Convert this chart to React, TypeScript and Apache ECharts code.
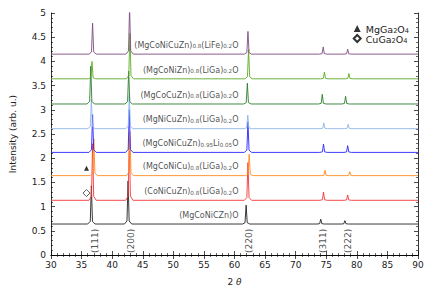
import React, { useEffect, useRef } from "react";
import * as echarts from "echarts";

const FONT = "DejaVu Sans";

// Sample labels (rich text with subscripts), bottom to top
const sampleLabels = [
  "{m|(MgCoNiCZn)O}",
  "{m|(CoNiCuZn)}{s|0.8}{m|(LiGa)}{s|0.2}{m|O}",
  "{m|(MgCoNiCu)}{s|0.8}{m|(LiGa)}{s|0.2}{m|O}",
  "{m|(MgCoNiCuZn)}{s|0.95}{m|Li}{s|0.05}{m|O}",
  "{m|(MgNiCuZn)}{s|0.8}{m|(LiGa)}{s|0.2}{m|O}",
  "{m|(MgCoCuZn)}{s|0.8}{m|(LiGa)}{s|0.2}{m|O}",
  "{m|(MgCoNiZn)}{s|0.8}{m|(LiGa)}{s|0.2}{m|O}",
  "{m|(MgCoNiCuZn)}{s|0.8}{m|(LiFe)}{s|0.2}{m|O}",
];
const traceColors = ["#222222", "#f53535", "#ff8a1c", "#2626ff", "#8db6e8", "#2d7d2d", "#5cab24", "#7e4c82"];
const baselines = [0.64, 1.13, 1.64, 2.12, 2.61, 3.12, 3.64, 4.15];
const peakPositions = [
  [36.6, 42.6, 61.9, 74.1, 78.05],
  [36.8, 42.8, 62.2, 74.55, 78.5],
  [37.0, 42.9, 62.4, 74.8, 78.85],
  [36.8, 42.8, 62.2, 74.55, 78.5],
  [36.6, 42.8, 62.17, 74.6, 78.58],
  [36.5, 42.7, 62.1, 74.35, 78.16],
  [36.7, 42.9, 62.3, 74.7, 78.7],
  [36.8, 42.85, 62.2, 74.5, 78.5],
];
const peakTops = [
  [1.43, 1.53, 1.03, 0.74, 0.71],
  [2.3, 2.4, 1.91, 1.3, 1.24],
  [2.4, 2.55, 2.08, 1.75, 1.72],
  [2.9, 3.0, 2.75, 2.29, 2.26],
  [3.2, 3.3, 2.89, 2.73, 2.7],
  [3.9, 3.8, 3.55, 3.32, 3.28],
  [4.0, 4.58, 4.25, 3.78, 3.75],
  [4.79, 5.1, 4.62, 4.3, 4.25],
];

const hklLabels = ["(111)", "(200)", "(220)", "(311)", "(222)"];
const hklPositions = [37.15, 43.0, 62.3, 74.5, 78.5];
const hklY = 0.29;

const phaseNames = ["MgGa2O4", "CuGa2O4"];
const phaseMarks: number[][] = [
  [35.8, 1.79],
  [35.8, 1.28],
];

const labelX = 60.65;
const labelOffset = 0.2;

function buildTrace(i: number): number[][] {
  const b = baselines[i];
  const pts: number[][] = [[30, b]];
  peakPositions[i].forEach((p, k) => {
    const t = peakTops[i][k];
    const sh = b + 0.07 * (t - b);
    pts.push([p - 0.6, b], [p - 0.18, sh], [p, t], [p + 0.18, sh], [p + 0.6, b]);
  });
  pts.push([90, b]);
  return pts;
}

export default function App() {
  const ref = useRef<HTMLDivElement>(null);
  useEffect(() => {
    if (!ref.current) return;
    const chart = echarts.init(ref.current, undefined, { renderer: "svg" });
    const rich = {
      m: { fontSize: 8, fontFamily: FONT, color: "#222", lineHeight: 10, verticalAlign: "bottom" },
      s: { fontSize: 5.6, fontFamily: FONT, color: "#222", lineHeight: 5, verticalAlign: "bottom" },
    };
    const legendRich = {
      m: { fontSize: 9.5, fontFamily: FONT, color: "#222", lineHeight: 11, verticalAlign: "bottom" },
      s: { fontSize: 6.6, fontFamily: FONT, color: "#222", lineHeight: 6, verticalAlign: "bottom" },
    };
    const axisCommon = {
      min: 0,
      axisLine: { lineStyle: { color: "#000", width: 0.8 } },
      splitLine: { show: false },
    };
    const series: any[] = [];
    baselines.forEach((_, i) => {
      series.push({
        type: "line",
        data: buildTrace(i),
        showSymbol: false,
        lineStyle: { color: traceColors[i], width: 0.9 },
        z: 2 + i,
        silent: true,
      });
    });
    baselines.forEach((b, i) => {
      series.push({
        type: "scatter",
        data: [[labelX, b + labelOffset]],
        symbolSize: 0,
        silent: true,
        z: 20,
        label: {
          show: true,
          position: "left",
          distance: 0,
          formatter: sampleLabels[i],
          rich,
        },
      });
    });
    series.push({
      type: "scatter",
      data: hklPositions.map((x, i) => ({ value: [x, hklY], name: hklLabels[i] })),
      symbolSize: 0,
      silent: true,
      z: 20,
      label: {
        show: true,
        position: "inside",
        rotate: 90,
        formatter: (p: any) => p.name,
        fontSize: 9,
        fontFamily: FONT,
        color: "#222",
      },
    });
    series.push({
      name: phaseNames[0],
      type: "scatter",
      data: [phaseMarks[0]],
      symbol: "triangle",
      symbolSize: 5,
      itemStyle: { color: "#000" },
      z: 30,
    });
    series.push({
      name: phaseNames[1],
      type: "scatter",
      data: [phaseMarks[1]],
      symbol: "diamond",
      symbolSize: 7,
      itemStyle: { color: "#fff", borderColor: "#000", borderWidth: 0.8 },
      z: 30,
    });

    chart.setOption({
      animation: false,
      grid: { left: 50, right: 18, top: 13, bottom: 35 },
      legend: {
        data: phaseNames,
        orient: "vertical",
        right: 22,
        top: 19,
        itemWidth: 7,
        itemHeight: 7,
        itemGap: 0,
        formatter: (n: string) =>
          n === "MgGa2O4" ? "{m|MgGa}{s|2}{m|O}{s|4}" : "{m|CuGa}{s|2}{m|O}{s|4}",
        textStyle: { rich: legendRich, padding: [0, 0, 0, 0] },
      },
      xAxis: [
        {
          ...axisCommon,
          type: "value",
          min: 30,
          max: 90,
          interval: 5,
          name: "{a|2 }{b|θ}",
          nameLocation: "middle",
          nameGap: 22,
          nameTextStyle: {
            rich: {
              a: { fontSize: 9, fontFamily: FONT, color: "#222" },
              b: { fontSize: 9, fontFamily: FONT, color: "#222", fontStyle: "italic" },
            },
          },
          axisTick: { inside: true, length: 4, lineStyle: { color: "#000", width: 0.7 } },
          minorTick: { show: true, splitNumber: 5, length: 2, lineStyle: { color: "#000", width: 0.6 } },
          axisLabel: { fontSize: 9, fontFamily: FONT, color: "#222", margin: 5 },
        },
        {
          ...axisCommon,
          type: "value",
          position: "top",
          min: 30,
          max: 90,
          interval: 5,
          axisTick: { inside: true, length: 4, lineStyle: { color: "#000", width: 0.7 } },
          minorTick: { show: true, splitNumber: 5, length: 2, lineStyle: { color: "#000", width: 0.6 } },
          axisLabel: { show: false },
        },
      ],
      yAxis: [
        {
          ...axisCommon,
          type: "value",
          max: 5,
          interval: 0.5,
          name: "Intensity (arb. u.)",
          nameLocation: "middle",
          nameGap: 34,
          nameTextStyle: { fontSize: 9, fontFamily: FONT, color: "#222" },
          axisTick: { inside: true, length: 4, lineStyle: { color: "#000", width: 0.7 } },
          minorTick: { show: true, splitNumber: 5, length: 2, lineStyle: { color: "#000", width: 0.6 } },
          axisLabel: { fontSize: 9, fontFamily: FONT, color: "#222", margin: 5 },
        },
        {
          ...axisCommon,
          type: "value",
          position: "right",
          max: 5,
          interval: 0.5,
          axisTick: { inside: true, length: 4, lineStyle: { color: "#000", width: 0.7 } },
          minorTick: { show: true, splitNumber: 5, length: 2, lineStyle: { color: "#000", width: 0.6 } },
          axisLabel: { show: false },
        },
      ],
      series,
    });
    return () => chart.dispose();
  }, []);
  return <div ref={ref} style={{ width: 436, height: 291, position: "absolute", left: 0, top: 0 }} />;
}
